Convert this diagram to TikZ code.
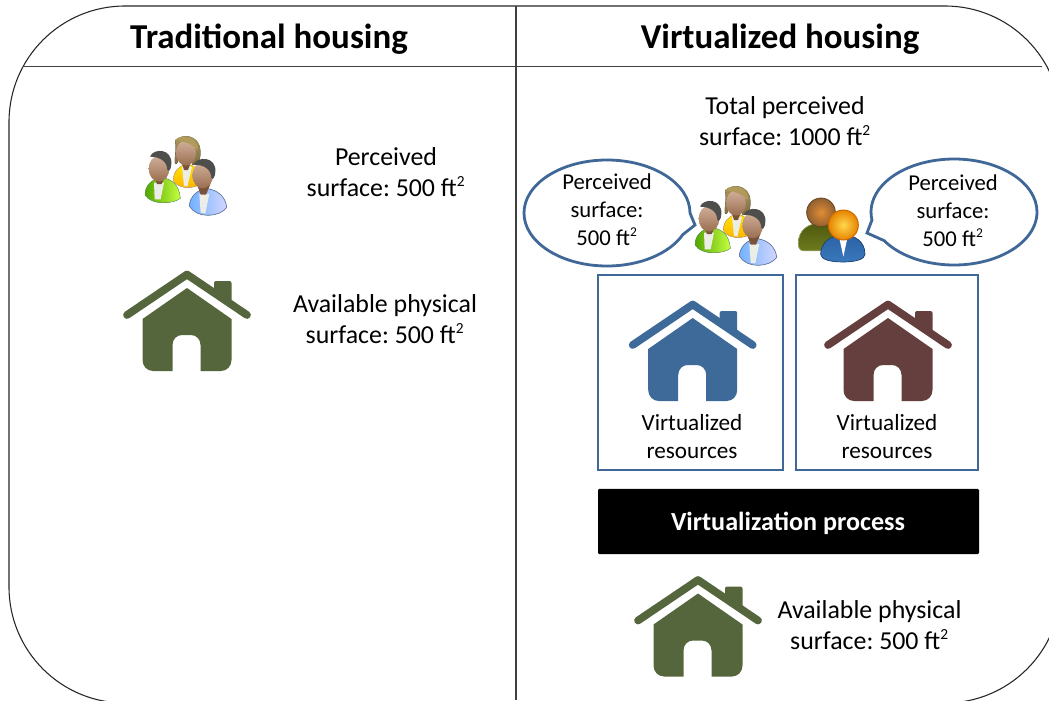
\documentclass[tikz,border=0pt]{standalone}
\usepackage{fontspec}
\setmainfont{Carlito}
\usetikzlibrary{shapes.callouts,shapes.geometric}
\AtBeginDocument{\frenchspacing}
\newcommand{\sqsup}{\textsuperscript{\scalebox{0.85}{2}}}
\definecolor{hgreen}{HTML}{55663C}
\definecolor{hblue}{HTML}{3E6A9A}
\definecolor{hbrown}{HTML}{653F3E}
\definecolor{edgeblue}{HTML}{3F6797}
\definecolor{skinT}{HTML}{D2B09A}
\definecolor{skinB}{HTML}{9A6E50}
\definecolor{neck}{HTML}{7A5238}
\definecolor{hairD}{HTML}{4E4E4C}
\definecolor{hairT}{HTML}{B09A5C}
\definecolor{shirt}{HTML}{EDEDE8}
\definecolor{oliveT}{HTML}{6E7A1C}
\definecolor{oliveB}{HTML}{4E5A10}
\definecolor{bodyT}{HTML}{2A62A4}
\definecolor{bodyB}{HTML}{3A78BC}
\tikzset{
  frameline/.style={draw=black!85,line width=0.8pt},
  sepline/.style={draw=black!75,line width=0.95pt},
  titletext/.style={font=\fontsize{26.2}{30}\selectfont\bfseries,anchor=center},
  bodytext/.style={font=\fontsize{19.4}{23.4}\selectfont,align=center,anchor=center,inner sep=0pt},
  bubbleshape/.style={ellipse callout,draw=edgeblue,line width=2.1pt,fill=white,
     minimum width=124.5pt,minimum height=79.5pt,inner sep=0pt,callout pointer arc=24},
  bubbletext/.style={font=\fontsize{17}{21}\selectfont,align=center,inner sep=0pt},
  restext/.style={font=\fontsize{17.4}{21}\selectfont,align=center,inner sep=0pt},
  vbox/.style={draw=edgeblue,line width=2.1pt,fill=white,inner sep=0pt},
  procbox/.style={fill=black,text=white,rounded corners=1pt,inner sep=0pt,
     minimum width=285.75pt,minimum height=49pt},
  proctext/.style={text=white,inner sep=0pt,font=\fontsize{19.6}{22}\selectfont\bfseries},
  pics/house/.style={code={
    \fill[#1] (0,-32) -- (44.5,-1) -- (44.5,40) .. controls (44.5,46) and (40,51) .. (34,51) -- (13.5,51)
       -- (13.5,25) .. controls (13.5,19) and (9,15) .. (4,15) -- (-5,15) .. controls (-10,15) and (-14.5,19) .. (-14.5,25)
       -- (-14.5,51) -- (-34,51) .. controls (-40,51) and (-44.5,46) .. (-44.5,40) -- (-44.5,-1) -- cycle;
    \fill[#1,rounded corners=1.5pt] (27,-24) -- (27,-39) -- (44.5,-39) -- (44.5,-14) -- cycle;
    \draw[#1,line width=5.8pt,line cap=round,line join=round] (-60,-5) -- (0,-45.5) -- (60,-5);
  }},
  pics/people/.style={code={
    \begin{scope}[x=0.25pt,y=-0.25pt]
      \fill[top color=yellow!80!orange,bottom color=orange!60!yellow,draw=orange!70!black!60,line width=0.3pt]
        (190,182) .. controls (190,155) and (205,140) .. (228,132) .. controls (255,135) and (270,150) .. (272,190)
        .. controls (255,208) and (205,208) .. (190,182) -- cycle;
      \fill[shirt] (216,140) -- (246,140) -- (232,200) -- (222,197) -- cycle;
      \fill[neck] (213,120) -- (245,120) -- (234,150) -- (222,150) -- cycle;
      \fill[top color=hairT,bottom color=hairT!70!black]
        (195,62) .. controls (215,40) and (268,42) .. (271,92) .. controls (273,122) and (262,138) .. (246,135)
        -- (250,90) -- (205,95) .. controls (205,115) and (205,135) .. (196,132) .. controls (190,122) and (202,90) .. (195,62) -- cycle;
      \shade[top color=skinT,bottom color=skinB] (228,99) ellipse (30 and 38);
      \fill[hairT] (195,60) .. controls (215,40) and (268,48) .. (263,92)
        .. controls (250,72) and (225,66) .. (195,60) -- cycle;
      \fill[left color=green!50!yellow!65!black,right color=green!30!yellow!75!white,draw=green!40!black!60,line width=0.3pt]
        (105,225) .. controls (105,195) and (125,180) .. (150,172) .. controls (185,175) and (208,195) .. (211,235)
        .. controls (190,252) and (125,257) .. (105,225) -- cycle;
      \fill[shirt] (132,188) -- (162,188) -- (152,238) -- (134,238) -- cycle;
      \fill[neck] (131,165) -- (167,165) -- (155,192) -- (141,192) -- cycle;
      \shade[top color=skinT,bottom color=skinB] (147,146) ellipse (31 and 39);
      \fill[hairD] (120,110) .. controls (130,84) and (187,84) .. (184,132) .. controls (184,147) and (176,157) .. (172,150)
        .. controls (172,125) and (150,110) .. (120,110) -- cycle;
      \fill[left color=cyan!45!blue!55!white,right color=cyan!12!blue!18!white,draw=cyan!40!blue!50!gray,line width=0.5pt]
        (238,258) .. controls (240,228) and (262,212) .. (285,205) .. controls (322,208) and (347,230) .. (350,262)
        .. controls (330,292) and (260,297) .. (238,258) -- cycle;
      \fill[shirt] (268,222) -- (298,222) -- (286,280) -- (272,278) -- cycle;
      \fill[neck] (260,190) -- (302,190) -- (288,224) -- (272,224) -- cycle;
      \shade[top color=skinT,bottom color=skinB] (278,166) ellipse (31 and 39);
      \fill[hairD] (250,135) .. controls (260,107) and (320,109) .. (316,155) .. controls (316,170) and (308,182) .. (304,174)
        .. controls (304,148) and (280,132) .. (250,135) -- cycle;
    \end{scope}
  }},
  pics/pair/.style={code={
    \begin{scope}[x=0.25pt,y=-0.25pt]
      \fill[top color=oliveB,bottom color=oliveT,draw=oliveT!70!white,line width=0.5pt]
        (55,250) .. controls (55,210) and (85,190) .. (120,190) .. controls (150,190) and (175,210) .. (180,260)
        -- (150,272) -- (70,272) .. controls (58,272) and (55,262) .. (55,250) -- cycle;
      \shade[inner color=orange!50!brown!90!white,outer color=brown!75!black] (123,157) circle (43);
      \draw[brown!55!black,line width=0.6pt] (123,157) circle (43);
      \fill[top color=bodyT,bottom color=bodyB,draw=bodyT!70!black,line width=0.5pt]
        (122,283) .. controls (122,245) and (155,225) .. (190,225) .. controls (225,225) and (255,245) .. (255,283)
        .. controls (255,298) and (225,306) .. (190,306) .. controls (150,306) and (122,298) .. (122,283) -- cycle;
      \fill[white] (178,235) -- (202,235) -- (190,290) -- cycle;
      \shade[inner color=orange!45!yellow!70!white,outer color=orange!85!yellow!90!black] (190,195) circle (45);
      \draw[orange!80!black,line width=0.7pt] (190,195) circle (45);
    \end{scope}
  }},
}
\begin{document}
\begin{tikzpicture}[x=0.75pt,y=-0.75pt]
\useasboundingbox (0,0) rectangle (1049,700);
\clip (0,0) rectangle (1049,700);
\fill[white] (0,0) rectangle (1049,700);
\draw[frameline,rounded corners=87pt] (9,6) rectangle (1061,703);
\draw[sepline] (23,66.5) -- (1042,66.5);
\draw[sepline] (516,6) -- (516,700);
\node[titletext] (hleft) at (269,39) {Traditional housing};
\node[titletext] (hright) at (780,39) {Virtualized housing};
\pic (peopleL) at (110,120) {people};
\node[bodytext] (percL) at (386,172.5) {Perceived\\surface: 500 ft\sqsup};
\pic (houseL) at (187,320) {house=hgreen};
\node[bodytext] (availL) at (385,319) {Available physical\\surface: 500 ft\sqsup};
\node[bodytext] (total) at (785,121) {Total perceived\\surface: 1000 ft\sqsup};
\node[bubbleshape,callout absolute pointer={(695,225)}] (bubL) at (607,213) {};
\node[bubbletext] (bubLt) at (607,209.5) {Perceived\\surface:\\500 ft\sqsup};
\node[bubbleshape,callout absolute pointer={(867,233)}] (bubR) at (954,212) {};
\node[bubbletext] (bubRt) at (953,210.5) {Perceived\\surface:\\500 ft\sqsup};
\pic (peopleR) at (660,170) {people};
\pic (pairR) at (780,160) {pair};
\node[vbox,minimum width=138.75pt,minimum height=146.25pt] (boxA) at (690.5,372.5) {};
\node[vbox,minimum width=136.5pt,minimum height=146.25pt] (boxB) at (887,372.5) {};
\pic (houseA) at (692.7,350) {house=hblue};
\pic (houseB) at (888,350) {house=hbrown};
\node[restext] (resA) at (692,436.5) {Virtualized\\resources};
\node[restext] (resB) at (887,436.5) {Virtualized\\resources};
\node[procbox] (proc) at (788.5,521.5) {};
\node[proctext] (proct) at (788,523) {Virtualization process};
\pic (houseC) at (698,625.5) {house=hgreen};
\node[bodytext] (availR) at (869.5,625) {Available physical\\surface: 500 ft\sqsup};
\end{tikzpicture}
\end{document}
